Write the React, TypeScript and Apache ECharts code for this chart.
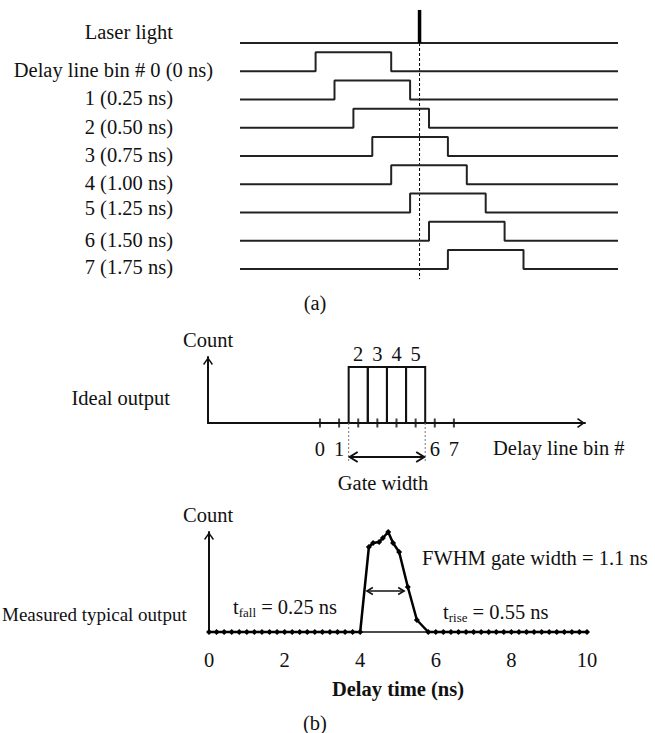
import React, { useEffect, useRef } from 'react';
import * as echarts from 'echarts';

// ---------- (a) timing diagram ----------
const rowLabels = [
  'Laser light',
  'Delay line bin # 0 (0 ns)',
  '1 (0.25 ns)',
  '2 (0.50 ns)',
  '3 (0.75 ns)',
  '4 (1.00 ns)',
  '5 (1.25 ns)',
  '6 (1.50 ns)',
  '7 (1.75 ns)',
];
const binDelays = [0, 0.25, 0.5, 0.75, 1.0, 1.25, 1.5, 1.75]; // ns
const gateDuration = 1.0; // ns
const laserTime = 1.375; // ns
const timeStart = -1;
const timeEnd = 4;

// ---------- (b) ideal output ----------
const idealBinLabels = ['2', '3', '4', '5'];
const idealBins = [2, 3, 4, 5];
const idealCounts = [1, 1, 1, 1];
const binTicks = [0, 1, 2, 3, 4, 5, 6, 7];
const binTickLabels = [0, 1, 6, 7];
const gateEdges = [1.5, 5.5];

// ---------- (b) measured output ----------
const measuredTime = [
  0, 0.2, 0.4, 0.6, 0.8, 1.0, 1.2, 1.4, 1.6, 1.8, 2.0, 2.2, 2.4, 2.6, 2.8, 3.0, 3.2, 3.4, 3.6, 3.8,
  4.0, 4.23, 4.34, 4.5, 4.6, 4.74, 4.87, 5.03, 5.26, 5.5,
  5.8, 6.0, 6.2, 6.4, 6.6, 6.8, 7.0, 7.2, 7.4, 7.6, 7.8, 8.0, 8.2, 8.4, 8.6, 8.8, 9.0, 9.2, 9.4, 9.6, 9.8, 10.0,
];
const measuredCount = [
  0, 0, 0, 0, 0, 0, 0, 0, 0, 0, 0, 0, 0, 0, 0, 0, 0, 0, 0, 0,
  0, 0.85, 0.89, 0.9, 0.94, 1.0, 0.89, 0.8, 0.45, 0.12,
  0, 0, 0, 0, 0, 0, 0, 0, 0, 0, 0, 0, 0, 0, 0, 0, 0, 0, 0, 0, 0, 0,
];
const timeTicks = ['0', '2', '4', '6', '8', '10'];
const fwhmSpan = [4.15, 5.19, 0.41];

const FONT = "'Liberation Serif', 'Times New Roman', serif";
const INK = '#111';
const LINE = '#222';
const FS = 20.5;
const PULSE_H = 0.67;
const ARROW = 'path://M5,0 L10,7 L8.8,8 L5,2.6 L1.2,8 L0,7 Z';

function txt(text: string, x: number, y: number, align: string, extra: any = {}) {
  return {
    type: 'text',
    x,
    y,
    silent: true,
    style: {
      text,
      fill: INK,
      fontSize: FS,
      fontFamily: FONT,
      align,
      verticalAlign: 'middle',
      ...extra,
    },
  };
}

function doubleArrow(api: any, y: number, x1: number, x2: number, head: number, half: number, lw: number) {
  return [
    { type: 'line', shape: { x1: x1 + 1, y1: y, x2: x2 - 1, y2: y }, style: { stroke: INK, lineWidth: lw } },
    {
      type: 'polyline',
      shape: { points: [[x1 + head, y - half], [x1 + 1, y], [x1 + head, y + half]] },
      style: { stroke: INK, lineWidth: lw, fill: null },
    },
    {
      type: 'polyline',
      shape: { points: [[x2 - head, y - half], [x2 - 1, y], [x2 - head, y + half]] },
      style: { stroke: INK, lineWidth: lw, fill: null },
    },
  ];
}

export default function App() {
  const ref = useRef<HTMLDivElement>(null);
  useEffect(() => {
    if (!ref.current) return;
    const chart = echarts.init(ref.current, null, { renderer: 'svg' });

    const pulseSeries = binDelays.map((d, k) => {
      const base = -(k + 1);
      return {
        type: 'line',
        xAxisIndex: 0,
        yAxisIndex: 0,
        symbol: 'none',
        silent: true,
        lineStyle: { color: LINE, width: 2 },
        data: [
          [timeStart, base],
          [d, base],
          [d, base + PULSE_H],
          [d + gateDuration, base + PULSE_H],
          [d + gateDuration, base],
          [timeEnd, base],
        ],
      };
    });

    const hiddenAxis = { show: false, splitLine: { show: false } };

    const option: any = {
      animation: false,
      backgroundColor: '#fff',
      grid: [
        { left: 240, width: 378, top: 9.1, height: 271.2 },
        { left: 208, width: 377, top: 357, height: 66 },
        { left: 209, width: 378, top: 532, height: 100 },
      ],
      xAxis: [
        { gridIndex: 0, type: 'value', min: timeStart, max: timeEnd, ...hiddenAxis },
        {
          gridIndex: 1,
          type: 'value',
          min: -5.85,
          max: 13.85,
          splitLine: { show: false },
          axisTick: { show: false },
          axisLine: {
            show: true,
            onZero: false,
            symbol: ['none', ARROW],
            symbolSize: [10, 8],
            symbolOffset: [0, -4],
            lineStyle: { color: INK, width: 2 },
          },
          axisLabel: {
            customValues: binTickLabels,
            formatter: (v: number) => String(v),
            color: INK,
            fontSize: FS,
            fontFamily: FONT,
            margin: 15,
          },
        },
        {
          gridIndex: 2,
          type: 'value',
          min: 0,
          max: 10,
          interval: 2,
          splitLine: { show: false },
          axisTick: { show: false },
          axisLine: { show: true, onZero: false, lineStyle: { color: INK, width: 1.5 } },
          axisLabel: {
            formatter: (v: number) => timeTicks[Math.round(v / 2)] ?? '',
            color: INK,
            fontSize: FS,
            fontFamily: FONT,
            margin: 17,
          },
          name: 'Delay time (ns)',
          nameLocation: 'middle',
          nameGap: 46,
          nameTextStyle: { color: INK, fontSize: FS, fontFamily: FONT, fontWeight: 'bold' },
        },
      ],
      yAxis: [
        { gridIndex: 0, type: 'value', min: -8.4, max: 1.2, ...hiddenAxis },
        {
          gridIndex: 1,
          type: 'value',
          min: 0,
          max: 66 / 56,
          splitLine: { show: false },
          axisTick: { show: false },
          axisLabel: { show: false },
          axisLine: {
            show: true,
            onZero: false,
            symbol: ['none', ARROW],
            symbolSize: [10, 8],
            symbolOffset: [0, -4],
            lineStyle: { color: INK, width: 2 },
          },
        },
        {
          gridIndex: 2,
          type: 'value',
          min: 0,
          max: 1,
          splitLine: { show: false },
          axisTick: { show: false },
          axisLabel: { show: false },
          axisLine: {
            show: true,
            onZero: false,
            symbol: ['none', ARROW],
            symbolSize: [10, 8],
            symbolOffset: [0, -4],
            lineStyle: { color: INK, width: 2 },
          },
        },
      ],
      series: [
        // laser light baseline
        {
          type: 'line',
          xAxisIndex: 0,
          yAxisIndex: 0,
          symbol: 'none',
          silent: true,
          lineStyle: { color: LINE, width: 2 },
          data: [
            [timeStart, 0],
            [timeEnd, 0],
          ],
        },
        // laser pulse spike
        {
          type: 'line',
          xAxisIndex: 0,
          yAxisIndex: 0,
          symbol: 'none',
          silent: true,
          clip: false,
          lineStyle: { color: '#000', width: 3.5 },
          data: [
            [laserTime, 0],
            [laserTime, 1.17],
          ],
        },
        // dashed reference line
        {
          type: 'line',
          xAxisIndex: 0,
          yAxisIndex: 0,
          symbol: 'none',
          silent: true,
          z: 1,
          lineStyle: { color: '#000', width: 1, type: [3, 2] },
          data: [
            [laserTime, 0],
            [laserTime, -8.36],
          ],
        },
        ...pulseSeries,
        // ideal output bins: each an outlined box one bin wide
        {
          type: 'custom',
          xAxisIndex: 1,
          yAxisIndex: 1,
          clip: false,
          silent: true,
          encode: { x: 0, y: 1 },
          data: idealBins.map((b, i) => [b, idealCounts[i]]),
          renderItem: (params: any, api: any) => {
            const b = api.value(0);
            const c = api.value(1);
            const tl = api.coord([b - 0.5, c]);
            const br = api.coord([b + 0.5, 0]);
            return {
              type: 'group',
              children: [
                {
                  type: 'rect',
                  shape: { x: tl[0], y: tl[1], width: br[0] - tl[0], height: br[1] - tl[1] },
                  style: { fill: null, stroke: INK, lineWidth: 2 },
                },
                {
                  type: 'text',
                  x: (tl[0] + br[0]) / 2,
                  y: tl[1] - 3,
                  style: {
                    text: idealBinLabels[params.dataIndex],
                    fill: INK,
                    fontSize: FS,
                    fontFamily: FONT,
                    align: 'center',
                    verticalAlign: 'bottom',
                  },
                },
              ],
            };
          },
        },
        // bin tick marks crossing the axis
        {
          type: 'scatter',
          xAxisIndex: 1,
          yAxisIndex: 1,
          symbol: 'rect',
          symbolSize: [2, 9],
          clip: false,
          silent: true,
          z: 5,
          itemStyle: { color: INK },
          data: binTicks.map((b) => [b, 0]),
        },
        // gate width annotation
        {
          type: 'custom',
          xAxisIndex: 1,
          yAxisIndex: 1,
          clip: false,
          silent: true,
          encode: { x: [0, 1], y: [2, 3] },
          data: [[gateEdges[0], gateEdges[1], -0.607, -0.714]],
          renderItem: (params: any, api: any) => {
            const xa = api.value(0);
            const xb = api.value(1);
            const ya = api.value(2);
            const yb = api.value(3);
            const a0 = api.coord([xa, 0]);
            const a1 = api.coord([xa, yb]);
            const b0 = api.coord([xb, 0]);
            const b1 = api.coord([xb, yb]);
            const l = api.coord([xa, ya]);
            const r = api.coord([xb, ya]);
            return {
              type: 'group',
              children: [
                { type: 'line', shape: { x1: a0[0], y1: a0[1], x2: a1[0], y2: a1[1] }, style: { stroke: '#777', lineWidth: 1, lineDash: [2, 2] } },
                { type: 'line', shape: { x1: b0[0], y1: b0[1], x2: b1[0], y2: b1[1] }, style: { stroke: '#777', lineWidth: 1, lineDash: [2, 2] } },
                ...doubleArrow(api, l[1], l[0], r[0], 9, 5, 2),
              ],
            };
          },
        },
        // measured output
        {
          type: 'line',
          xAxisIndex: 2,
          yAxisIndex: 2,
          symbol: 'diamond',
          symbolSize: 6,
          showAllSymbol: true,
          clip: false,
          silent: true,
          z: 4,
          lineStyle: { color: '#000', width: 2.5 },
          itemStyle: { color: '#000' },
          data: measuredTime.map((t, i) => [t, measuredCount[i]]),
        },
        // FWHM arrow
        {
          type: 'custom',
          xAxisIndex: 2,
          yAxisIndex: 2,
          clip: false,
          silent: true,
          encode: { x: [0, 1], y: 2 },
          data: [fwhmSpan],
          renderItem: (params: any, api: any) => {
            const l = api.coord([api.value(0), api.value(2)]);
            const r = api.coord([api.value(1), api.value(2)]);
            return { type: 'group', children: doubleArrow(api, l[1], l[0], r[0], 7, 3.5, 1.5) };
          },
        },
      ],
      graphic: {
        elements: [
          txt(rowLabels[0], 173, 32, 'right'),
          txt(rowLabels[1], 213, 70, 'right'),
          txt(rowLabels[2], 173, 98, 'right'),
          txt(rowLabels[3], 173, 127, 'right'),
          txt(rowLabels[4], 173, 155, 'right'),
          txt(rowLabels[5], 173, 183, 'right'),
          txt(rowLabels[6], 173, 208, 'right'),
          txt(rowLabels[7], 173, 240, 'right'),
          txt(rowLabels[8], 173, 267, 'right'),
          txt('(a)', 315, 303, 'center'),
          txt('Count', 183, 340, 'left'),
          txt('Ideal output', 170, 398, 'right'),
          txt('Delay line bin #', 493, 448, 'left'),
          txt('Gate width', 383, 483, 'center'),
          txt('Count', 183, 515, 'left'),
          txt('Measured typical output', 2, 614, 'left', { fontSize: 19 }),
          txt('FWHM gate width = 1.1 ns', 422, 558, 'left'),
          {
            type: 'text',
            x: 233,
            y: 607,
            silent: true,
            style: {
              text: '{t|t}{s|fall}{t| = 0.25 ns}',
              verticalAlign: 'middle',
              align: 'left',
              rich: {
                t: { fill: INK, fontSize: FS, fontFamily: FONT, lineHeight: 24 },
                s: { fill: INK, fontSize: 13, fontFamily: FONT, lineHeight: 12, verticalAlign: 'bottom' },
              },
            },
          },
          {
            type: 'text',
            x: 443,
            y: 612,
            silent: true,
            style: {
              text: '{t|t}{s|rise}{t| = 0.55 ns}',
              verticalAlign: 'middle',
              align: 'left',
              rich: {
                t: { fill: INK, fontSize: FS, fontFamily: FONT, lineHeight: 24 },
                s: { fill: INK, fontSize: 13, fontFamily: FONT, lineHeight: 12, verticalAlign: 'bottom' },
              },
            },
          },
          txt('(b)', 315, 723, 'center'),
        ],
      },
    };

    chart.setOption(option);
    return () => chart.dispose();
  }, []);

  return (
    <div
      ref={ref}
      style={{ position: 'absolute', left: 0, top: 0, width: 655, height: 733, background: '#fff' }}
    />
  );
}
